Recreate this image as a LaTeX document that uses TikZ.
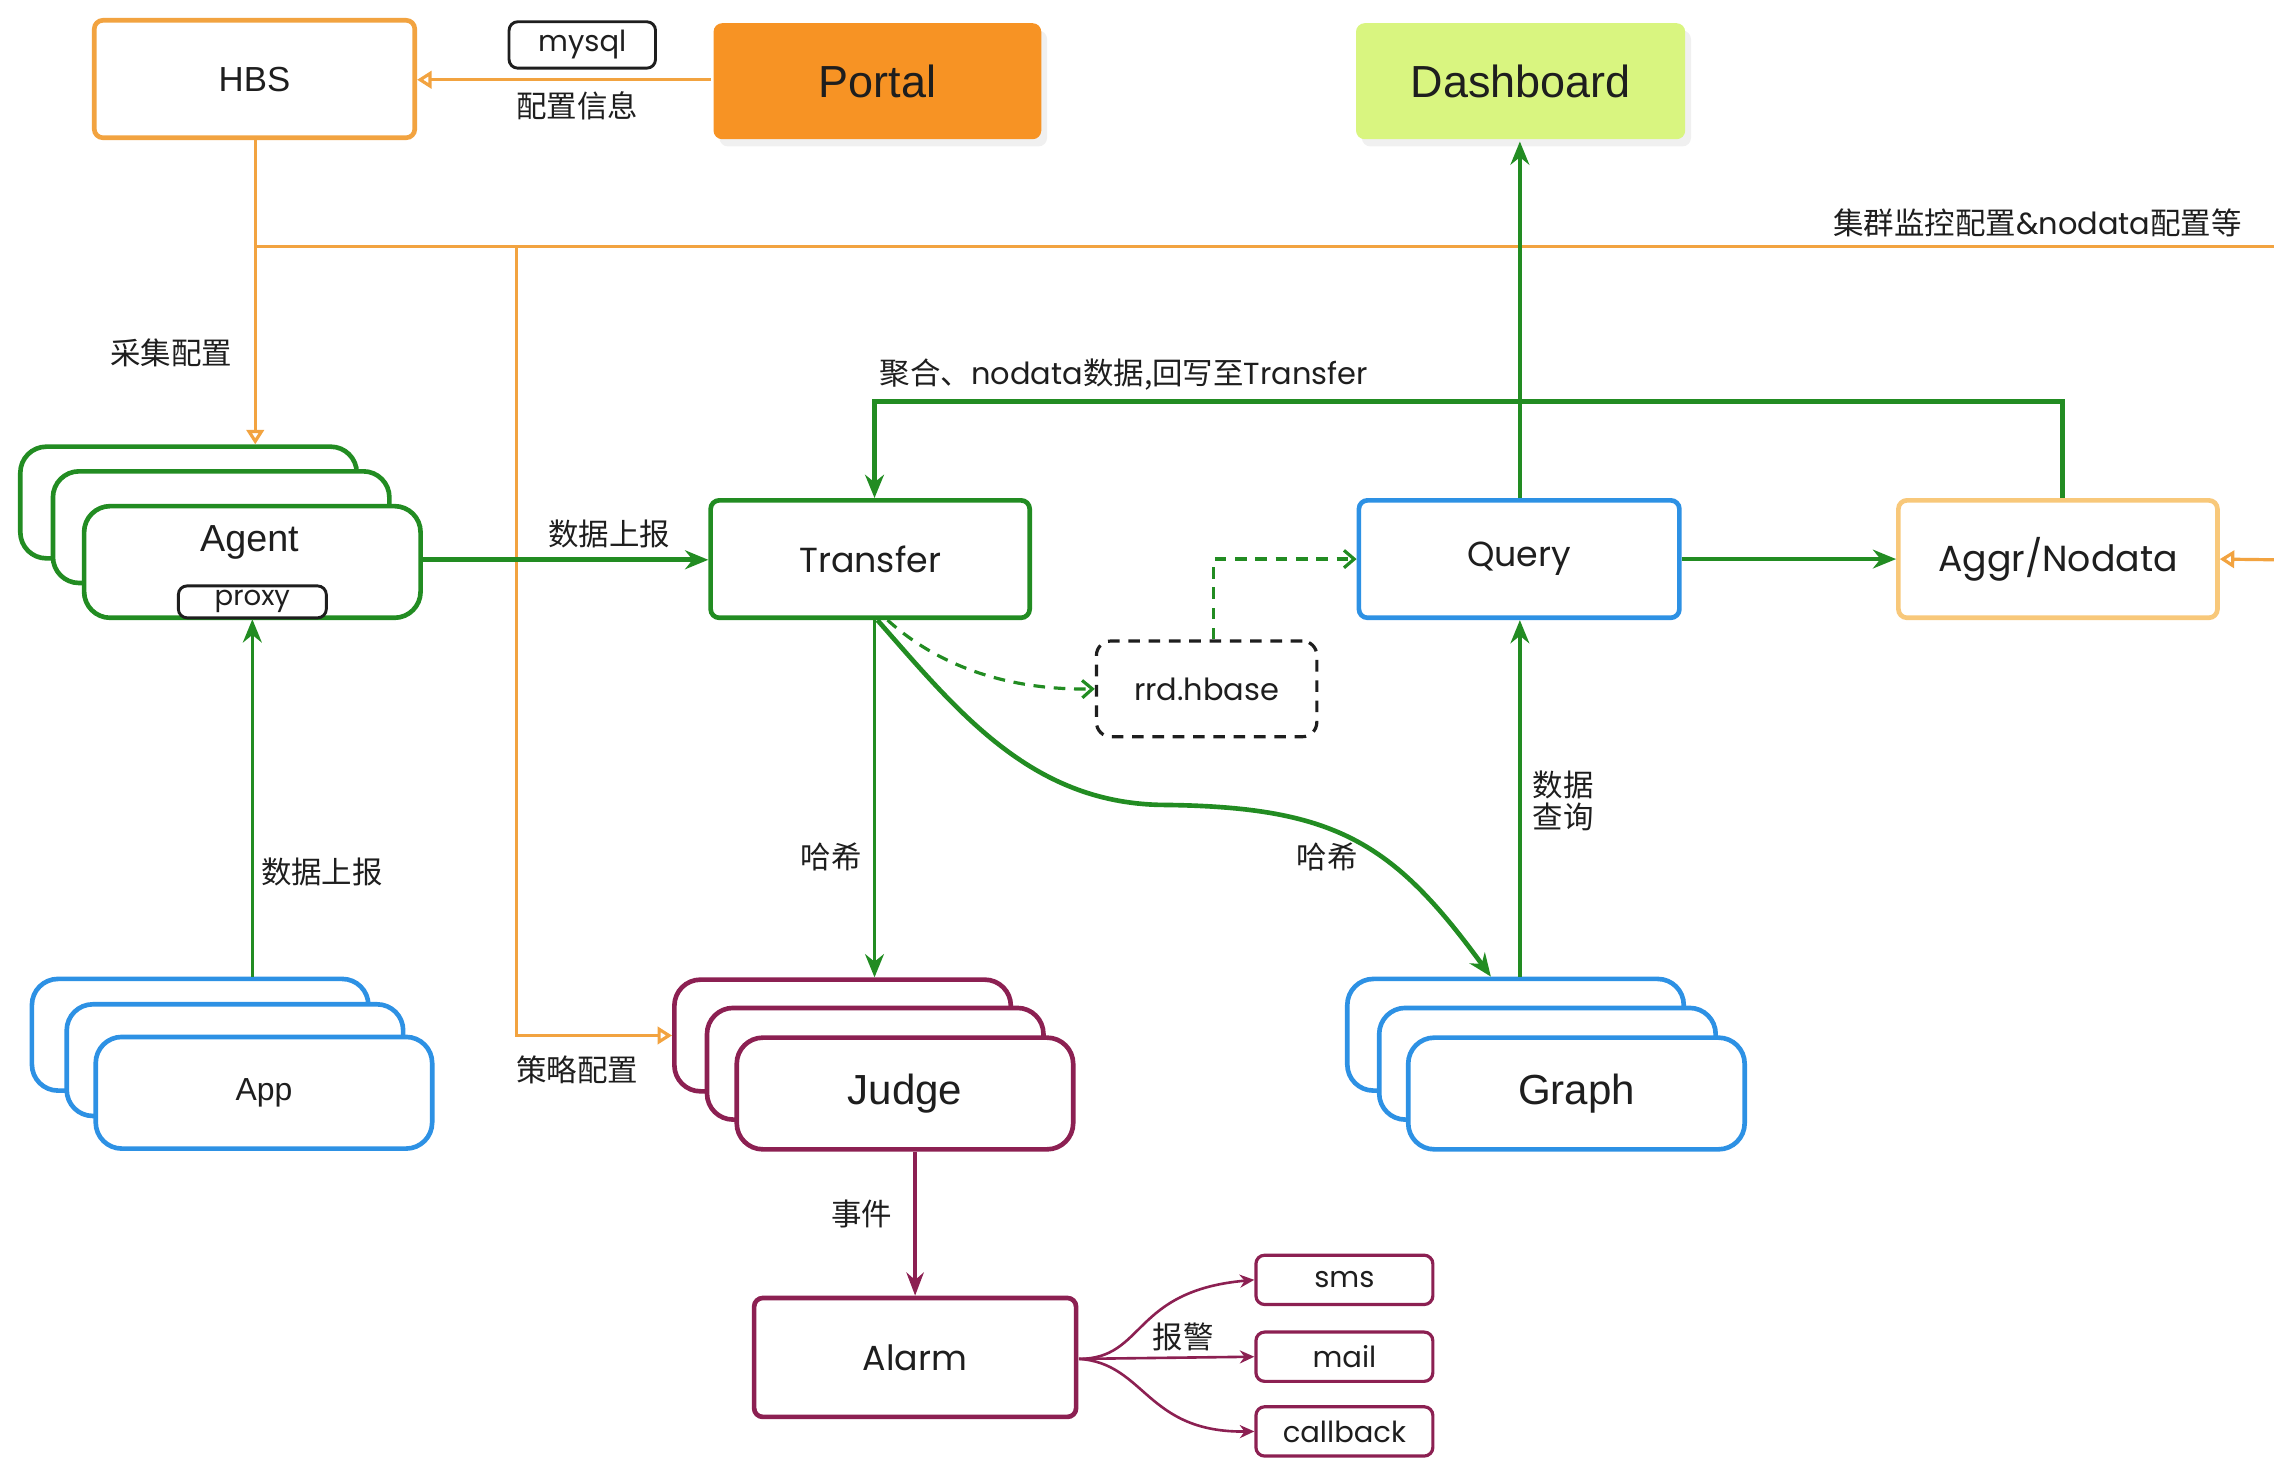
\documentclass[tikz,border=0pt]{standalone}
\usepackage{fontspec}
\usetikzlibrary{arrows.meta,shadows,calc}
\newfontfamily\gothic{Poppins}
\newfontfamily\arial{Liberation Sans}
\newfontfamily\cjk{Noto Sans CJK SC}
\definecolor{ograng}{RGB}{242,163,64}
\definecolor{portalfill}{RGB}{247,147,36}
\definecolor{dashfill}{RGB}{217,245,128}
\definecolor{fgreen}{RGB}{34,140,34}
\definecolor{sblue}{RGB}{45,145,228}
\definecolor{aggrline}{RGB}{248,200,122}
\definecolor{maroon}{RGB}{140,32,82}
\definecolor{ink}{RGB}{30,30,30}
\tikzset{
  box/.style={draw, line width=1.6pt, rounded corners=3pt, fill=white, inner sep=0pt, text=ink},
  stk/.style={box, rounded corners=9pt, minimum width=116pt, minimum height=38.5pt},
  tag/.style={draw=ink, line width=1pt, rounded corners=3pt, fill=white, inner sep=0pt, text=ink, font=\gothic\fontsize{10}{12}\selectfont},
  lbl/.style={text=ink, inner sep=0pt, font=\cjk\fontsize{10.5}{12.5}\selectfont},
  garrow/.style={draw=fgreen, line width=1.2pt, -{Stealth[length=8pt,width=6.5pt]}},
  darrow/.style={draw=fgreen, line width=1.1pt, dashed, dash pattern=on 4pt off 3pt, -{Straight Barb[length=3.5pt,width=6pt]}},
  oline/.style={draw=ograng, line width=1.1pt},
  oarrow/.style={oline, -{Triangle[open,length=5pt,width=6pt]}},
  marrow/.style={draw=maroon, line width=1.2pt, -{Stealth[length=8pt,width=6pt]}},
  mthin/.style={draw=maroon, line width=0.9pt, -{Stealth[length=5pt,width=4.5pt]}},
  shade/.style={drop shadow={shadow xshift=2pt, shadow yshift=-2.5pt, opacity=0.12}},
}
\begin{document}
\begin{tikzpicture}[x=0.5pt, y=-0.5pt]
\useasboundingbox (0,0) rectangle (1568,1005);

% ---- top row ----
\node[box, draw=ograng, minimum width=110.5pt, minimum height=40.5pt, font=\arial\fontsize{12}{14}\selectfont] (hbs) at (175.5,54.5) {HBS};
\node[tag, minimum width=50.5pt, minimum height=16pt] (mysql) at (401.5,31) {mysql};
\node[box, draw=none, fill=portalfill, shade, minimum width=113pt, minimum height=40pt, font=\arial\fontsize{15.5}{18}\selectfont] (portal) at (605,56) {Portal};
\node[box, draw=none, fill=dashfill, shade, minimum width=113.5pt, minimum height=40pt, font=\arial\fontsize{15.5}{18}\selectfont] (dash) at (1048.5,56) {Dashboard};

% ---- middle row ----
\node[stk, draw=fgreen] (agentA) at (130,346.5) {};
\node[stk, draw=fgreen] (agentB) at (152.5,363.5) {};
\node[stk, draw=fgreen] (agent) at (174,387.5) {};
\node[text=ink, inner sep=0pt, font=\arial\fontsize{13}{15}\selectfont] (agentlbl) at (172,374) {Agent};
\node[tag, minimum width=51pt, minimum height=11pt, font=\gothic\fontsize{9.5}{11}\selectfont] (proxy) at (174,415) {proxy};

\node[box, draw=fgreen, minimum width=110pt, minimum height=40.5pt, font=\gothic\fontsize{12}{14}\selectfont] (transfer) at (600,385.5) {Transfer};
\node[box, draw=sblue, minimum width=110.5pt, minimum height=40.5pt, font=\gothic\fontsize{12}{14}\selectfont] (query) at (1047.5,385.5) {Query};
\node[box, draw=aggrline, minimum width=110pt, minimum height=40.5pt, font=\gothic\fontsize{12.5}{14}\selectfont] (aggr) at (1419,385.5) {Aggr/Nodata};
\node[box, draw=ink, line width=1.1pt, dashed, dash pattern=on 4pt off 3pt, rounded corners=5pt, minimum width=76pt, minimum height=33pt, font=\gothic\fontsize{10.5}{12}\selectfont] (rrd) at (832,475) {rrd.hbase};

% ---- lower row ----
\node[stk, draw=sblue] (appA) at (138,713.5) {};
\node[stk, draw=sblue] (appB) at (162,731) {};
\node[stk, draw=sblue, font=\arial\fontsize{11}{13}\selectfont] (app) at (182,753.5) {App};

\node[stk, draw=maroon] (judgeA) at (581,714) {};
\node[stk, draw=maroon] (judgeB) at (603.5,733.5) {};
\node[stk, draw=maroon, font=\arial\fontsize{14.5}{17}\selectfont] (judge) at (624,754) {Judge};

\node[stk, draw=sblue] (graphA) at (1045,713.5) {};
\node[stk, draw=sblue] (graphB) at (1067,733.5) {};
\node[stk, draw=sblue, font=\arial\fontsize{14.5}{17}\selectfont] (graph) at (1087,754) {Graph};

\node[box, draw=maroon, minimum width=111pt, minimum height=41pt, font=\gothic\fontsize{12}{14}\selectfont] (alarm) at (631,936) {Alarm};
\tikzset{outbox/.style={box, draw=maroon, line width=1.1pt, minimum width=61pt, minimum height=17pt, font=\gothic\fontsize{10}{12}\selectfont}}
\node[outbox] (sms) at (927,882.5) {sms};
\node[outbox] (mail) at (927,935.5) {mail};
\node[outbox] (callback) at (927,987) {callback};

% ---- configuration lines (orange) ----
\coordinate (cfg) at (176,170);
\coordinate (cfgR) at (1568,170);
\coordinate (br) at (356,170);
\coordinate (aggrIn) at (1568,386);
\draw[oarrow] (portal.west |- 0,55) -- (hbs.east |- 0,55);
\draw[oline] (hbs.south -| cfg) -- (cfg) -- (cfgR);
\draw[oarrow] (cfg) -- (cfg |- agentA.north);
\draw[oarrow] (br) |- (judgeA.west);
\draw[oarrow] (aggrIn) -- (aggr.east);

% ---- data flow (green) ----
\draw[garrow, line width=1.7pt] (agent.east |- 0,386) -- (transfer.west |- 0,386);
\draw[garrow] (proxy.south |- appA.north) -- (proxy.south);
\draw[garrow] (transfer.south -| 603,0) -- (603,0 |- judgeA.north);
\coordinate (gtop) at ($(graphA.north)+(-17,0)$);
\draw[garrow, line width=1.6pt] (transfer.south -| 605,0) .. controls (660,490) and (710,553) .. (800,555)
  .. controls (920,556) and (960,580) .. (gtop);
\draw[darrow] (transfer.south -| 612,0) .. controls (650,462) and (700,476) .. (rrd.west);
\draw[darrow] (rrd.north -| 837,0) |- (query.west);
\draw[garrow] (query.east) -- (aggr.west);
\draw[garrow] (query.north -| 1048,0) -- (dash.south -| 1048,0);
\draw[garrow] (graphA.north -| 1048,0) -- (query.south -| 1048,0);
\coordinate (fb) at (603,277);
\draw[garrow, line width=1.6pt] (aggr.north -| 1422,0) |- (fb) -- (fb |- transfer.north);

% ---- alarm path (maroon) ----
\draw[marrow] (alarm.north |- judge.south) -- (alarm.north);
\coordinate (aout) at (744,937);
\draw[mthin] (aout) .. controls (790,937) and (780,890) .. (sms.west);
\draw[mthin] (aout) -- (mail.west);
\draw[mthin] (aout) .. controls (790,940) and (790,988) .. (callback.west);

% ---- labels ----
\node[lbl] (l1) at (398,73) {配置信息};
\node[lbl] (l2) at (118,243) {采集配置};
\node[lbl] (l3) at (398,738) {策略配置};
\node[lbl] (l4) at (1405,154) {集群监控配置{\gothic\&nodata}配置等};
\node[lbl] (l5) at (775,258) {聚合、{\gothic nodata}数据,回写至{\gothic Transfer}};
\node[lbl] (l6) at (420,368) {数据上报};
\node[lbl] (l7) at (222,601) {数据上报};
\node[lbl] (l8) at (573,591) {哈希};
\node[lbl] (l9) at (915,591) {哈希};
\node[lbl, align=center, font=\cjk\fontsize{10.5}{11}\selectfont] (l10) at (1078,552) {数据\\查询};
\node[lbl] (l11) at (594,837) {事件};
\node[lbl] (l12) at (816,922) {报警};
\end{tikzpicture}
\end{document}
